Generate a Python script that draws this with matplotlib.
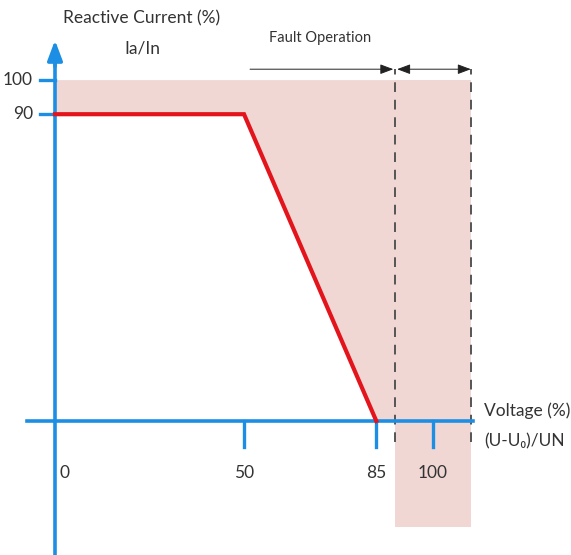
import matplotlib
matplotlib.use("Agg")
import matplotlib.pyplot as plt
from matplotlib.patches import Polygon, Rectangle

plt.rcParams['font.family'] = ['Lato', 'DejaVu Sans']

# ---------------- data ----------------
curve_x = [0, 50, 85]          # voltage (%)
curve_y = [90, 90, 0]          # reactive current (%)
band_x = [90, 110]             # second zone after fault operation
y_top = 100
x_tick_vals = [50, 85, 100]
x_tick_labels = ['50', '85', '100']
y_tick_vals = [90, 100]
y_tick_labels = ['90', '100']

# ---------------- style ----------------
blue = '#1C8FE4'
red = '#E3141B'
pink = '#F0D7D4'
txt = '#333333'
fs = 12.5

fig = plt.figure(figsize=(5.71, 5.55), dpi=100)
ax = fig.add_axes([0, 0, 1, 1])
ax.set_xlim(-14.55, 136.5)
ax.set_ylim(-39.3, 123.5)
ax.axis('off')

# shaded region above the curve up to the dashed line
poly = [(curve_x[0], y_top)] + list(zip(curve_x, curve_y)) + [(band_x[0], 0), (band_x[0], y_top)]
ax.add_patch(Polygon(poly, closed=True, facecolor=pink, edgecolor='none', zorder=1))
ax.add_patch(Rectangle((band_x[0], -31), band_x[1] - band_x[0], y_top + 31,
                       facecolor=pink, edgecolor='none', zorder=1))

# dashed boundaries
for bx in band_x:
    ax.plot([bx, bx], [-6.2, 103.2], color='#555555', linestyle=(0, (5, 4)),
            linewidth=1.4, zorder=2)

# axes
ax.plot([-7.4, 110.6], [0, 0], color=blue, linewidth=2.6, zorder=3)
ax.plot([0, 0], [-39.3, 105], color=blue, linewidth=2.6, zorder=3)
ax.annotate('', xy=(0, 111.7), xytext=(0, 104),
            arrowprops=dict(arrowstyle='-|>,head_length=1.2,head_width=0.45',
                            color=blue, linewidth=2.6, shrinkA=0, shrinkB=0), zorder=3)

# ticks
for v, lab in zip(x_tick_vals, x_tick_labels):
    ax.plot([v, v], [0, -7.6], color=blue, linewidth=2.4, zorder=3)
    ax.text(v, -15.2, lab, ha='center', va='center', fontsize=fs, color=txt)
ax.text(2.6, -15.2, '0', ha='center', va='center', fontsize=fs, color=txt)
for v, lab in zip(y_tick_vals, y_tick_labels):
    ax.plot([-4, 0], [v, v], color=blue, linewidth=2.4, zorder=3)
    ax.text(-5.8, v, lab, ha='right', va='center', fontsize=fs, color=txt)

# curve
ax.plot(curve_x, curve_y, color=red, linewidth=3, solid_joinstyle='miter', zorder=4)

# fault operation arrows
arr = dict(arrowstyle='-|>,head_length=0.8,head_width=0.3', color='#222222',
           linewidth=0.7, shrinkA=0, shrinkB=0)
ax.annotate('', xy=(band_x[0] - 0.5, 103.2), xytext=(51.6, 103.2), arrowprops=arr)
ax.annotate('', xy=(band_x[1], 103.2), xytext=(band_x[0] + 0.5, 103.2),
            arrowprops=dict(arr, arrowstyle='<|-|>,head_length=0.8,head_width=0.3'))
ax.text(70, 112.3, 'Fault Operation', ha='center', va='center', fontsize=10.5, color=txt)

# axis titles
ax.text(23, 118.2, 'Reactive Current (%)', ha='center', va='center', fontsize=fs, color=txt)
ax.text(23, 109.4, 'Ia/In', ha='center', va='center', fontsize=fs, color=txt)
ax.text(113.5, 2.9, 'Voltage (%)', ha='left', va='center', fontsize=fs, color=txt)
ax.text(113.5, -5.9, '(U-U₀)/UN', ha='left', va='center', fontsize=fs, color=txt)

plt.savefig('out.png', dpi=100)
